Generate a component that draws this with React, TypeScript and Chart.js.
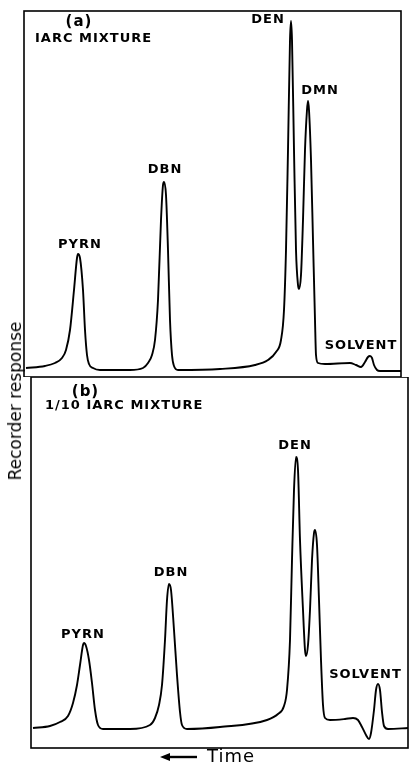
import React, { useEffect, useRef } from "react";
import { Chart, registerables } from "chart.js";

Chart.register(...registerables);

// Panel (a): IARC mixture — time (chart units) and recorder response (chart units)
const timeA = [2, 21, 31, 38, 42, 46, 50, 53, 54, 56, 59, 61, 63, 65, 69, 76, 106, 119, 124, 128, 131, 134, 137, 139, 140, 142, 144, 146, 148, 150, 154, 196, 231, 244, 252, 257, 260, 262, 264, 266, 267, 268, 270, 272, 274, 275, 277, 279, 281, 283, 284, 285, 287, 289, 291, 292, 294, 301, 326, 332, 337, 341, 344, 346, 348, 350, 353, 356, 377];
const respA = [9, 11, 14, 19, 27, 47, 87, 119, 123, 119, 87, 47, 22, 13, 9, 7, 7, 9, 14, 22, 37, 77, 157, 192, 195, 182, 127, 57, 22, 11, 7, 8, 12, 17, 25, 37, 67, 127, 227, 337, 356, 337, 227, 127, 92, 88, 102, 157, 227, 267, 276, 267, 217, 137, 57, 22, 14, 13, 14, 12, 10, 15, 20, 21, 19, 12, 7, 6, 6];

// Panel (b): 1/10 IARC mixture
const timeB = [2, 19, 29, 37, 42, 46, 49, 52, 53, 55, 58, 61, 64, 67, 72, 99, 119, 124, 128, 131, 134, 136, 138, 140, 143, 146, 149, 151, 156, 189, 236, 247, 253, 256, 259, 261, 263, 265, 267, 269, 272, 274, 275, 277, 279, 281, 283, 284, 286, 288, 290, 292, 294, 299, 314, 322, 327, 331, 335, 338, 340, 343, 345, 347, 349, 351, 353, 357, 378];
const respB = [20, 22, 26, 32, 45, 63, 83, 103, 105, 102, 88, 65, 38, 23, 19, 19, 23, 30, 43, 63, 108, 148, 164, 158, 118, 73, 36, 23, 19, 21, 28, 34, 42, 58, 108, 188, 258, 291, 278, 208, 138, 98, 92, 103, 138, 188, 215, 218, 203, 148, 88, 43, 30, 28, 29, 30, 28, 21, 13, 9, 15, 38, 58, 64, 58, 36, 22, 19, 20];

// Peak labels (text, time, response)
const labelsA = ["PYRN", "DBN", "DEN", "DMN", "SOLVENT"];
const labelTimeA = [56, 141, 244, 296, 337];
const labelRespA = [132, 207, 357, 286, 31];

const labelsB = ["PYRN", "DBN", "DEN", "SOLVENT"];
const labelTimeB = [52, 140, 264, 334.5];
const labelRespB = [113, 175, 302, 73];

const titleA = ["(a)", "IARC MIXTURE"];
const titleB = ["(b)", "1/10 IARC MIXTURE"];

const axisTitleY = "Recorder response";
const axisTitleX = "Time";

const FONT = "bold 13px 'DejaVu Sans', sans-serif";
const FONT_TAG = "bold 15px 'DejaVu Sans', sans-serif";

function makePanelPlugin(
  names: string[],
  tx: number[],
  ty: number[],
  titles: string[],
  titleX: number,
  titleY: number[],
  withTime: boolean
) {
  return {
    id: "panelDecor",
    afterDraw(chart: any) {
      const { ctx, chartArea, scales } = chart;
      const xs = scales.x;
      const ys = scales.y;
      ctx.save();
      // frame
      ctx.strokeStyle = "#000";
      ctx.lineWidth = 1.6;
      ctx.strokeRect(chartArea.left, chartArea.top, chartArea.right - chartArea.left, chartArea.bottom - chartArea.top);
      // peak labels
      ctx.fillStyle = "#000";
      ctx.font = FONT;
      (ctx as any).letterSpacing = "1px";
      ctx.textAlign = "center";
      ctx.textBaseline = "middle";
      names.forEach((n, i) => {
        ctx.fillText(n, xs.getPixelForValue(tx[i]), ys.getPixelForValue(ty[i]));
      });
      // panel titles
      ctx.textAlign = "left";
      ctx.fillText(titles[1], xs.getPixelForValue(titleY[2]), ys.getPixelForValue(titleY[1]));
      ctx.font = FONT_TAG;
      ctx.textAlign = "center";
      ctx.fillText(titles[0], xs.getPixelForValue(titleX), ys.getPixelForValue(titleY[0]));
      if (withTime) {
        const y = chartArea.bottom + 9;
        const x0 = chartArea.left + 129;
        ctx.lineWidth = 2.4;
        ctx.beginPath();
        ctx.moveTo(x0 + 6, y);
        ctx.lineTo(x0 + 37, y);
        ctx.stroke();
        ctx.beginPath();
        ctx.moveTo(x0, y);
        ctx.lineTo(x0 + 10, y - 4);
        ctx.lineTo(x0 + 10, y + 4);
        ctx.closePath();
        ctx.fill();
        ctx.font = "18px 'DejaVu Sans', sans-serif";
        (ctx as any).letterSpacing = "1px";
        ctx.textAlign = "left";
        ctx.fillText(axisTitleX, x0 + 47, y);
      }
      ctx.restore();
    },
  };
}

function makeConfig(
  tx: number[],
  ry: number[],
  xMax: number,
  yMax: number,
  padding: any,
  plugin: any
): any {
  return {
    type: "scatter",
    data: {
      datasets: [
        {
          data: tx.map((t, i) => ({ x: t, y: ry[i] })),
          showLine: true,
          borderColor: "#000",
          borderWidth: 1.9,
          pointRadius: 0,
          cubicInterpolationMode: "monotone",
          fill: false,
        },
      ],
    },
    options: {
      animation: false,
      responsive: false,
      maintainAspectRatio: false,
      layout: { padding },
      plugins: { legend: { display: false }, tooltip: { enabled: false }, title: { display: false } },
      scales: {
        x: { type: "linear", min: 0, max: xMax, display: false },
        y: { type: "linear", min: 0, max: yMax, display: false },
      },
    },
    plugins: [plugin],
  };
}

export default function App() {
  const topRef = useRef<HTMLCanvasElement>(null);
  const botRef = useRef<HTMLCanvasElement>(null);

  useEffect(() => {
    const pa = makePanelPlugin(labelsA, labelTimeA, labelRespA, titleA, 55, [355, 338, 11], false);
    const pb = makePanelPlugin(labelsB, labelTimeB, labelRespB, titleB, 54.5, [356, 342, 14], true);
    const ca = new Chart(topRef.current!, makeConfig(timeA, respA, 377, 366, { left: 24, right: 8, top: 11, bottom: 0 }, pa));
    const cb = new Chart(botRef.current!, makeConfig(timeB, respB, 377, 371, { left: 31, right: 1, top: 0, bottom: 15 }, pb));
    return () => {
      ca.destroy();
      cb.destroy();
    };
  }, []);

  return (
    <div style={{ position: "fixed", left: 0, top: 0, width: 409, height: 763, background: "#fff", overflow: "hidden" }}>
      <canvas ref={topRef} width={409} height={377} style={{ position: "absolute", left: 0, top: 0, width: 409, height: 377 }} />
      <canvas ref={botRef} width={409} height={386} style={{ position: "absolute", left: 0, top: 377, width: 409, height: 386 }} />
      <div
        style={{
          position: "absolute",
          left: 15,
          top: 401,
          transform: "translate(-50%, -50%) rotate(-90deg)",
          whiteSpace: "nowrap",
          font: "17px 'DejaVu Sans', sans-serif",
          color: "#000",
        }}
      >
        {axisTitleY}
      </div>
    </div>
  );
}
